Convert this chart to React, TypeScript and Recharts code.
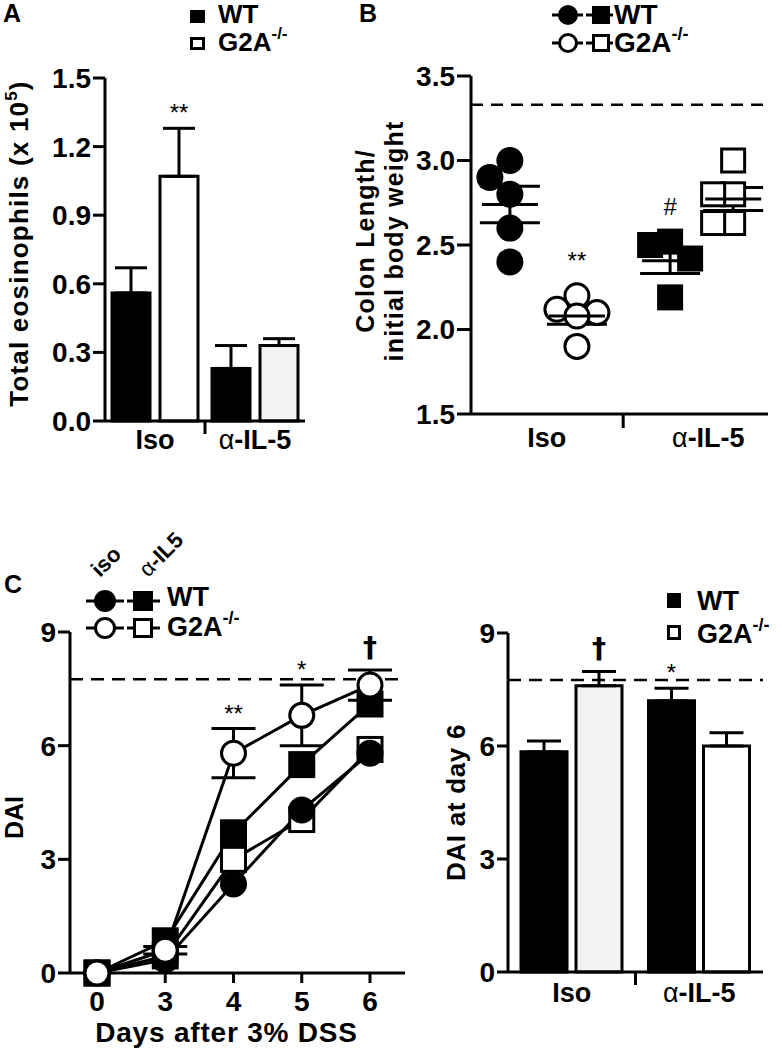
import React from "react";
import {
  BarChart,
  Bar,
  Cell,
  ErrorBar,
  LabelList,
  XAxis,
  YAxis,
  ReferenceLine,
  ScatterChart,
  Scatter,
  LineChart,
  Line,
} from "recharts";

const FONT = '"Liberation Sans", Arial, Helvetica, sans-serif';

// A: total eosinophils
const eosGroups = ["Iso", "α-IL-5"];
const eosWT = [0.56, 0.23];
const eosWTErr = [0.11, 0.1];
const eosKO = [1.07, 0.33];
const eosKOErr = [0.21, 0.03];
const eosKOSig = ["**", ""];
const eosTicks = [0, 0.3, 0.6, 0.9, 1.2, 1.5];
const eosKOFill = ["#ffffff", "#f2f2f2"];

// B: colon length / initial body weight (one value per mouse)
const colonWTIso = [3.0, 2.9, 2.8, 2.6, 2.4];
const colonKOIso = [2.2, 2.12, 2.1, 2.08, 1.9];
const colonWTIL5 = [2.52, 2.5, 2.42, 2.19];
const colonKOIL5 = [3.0, 2.8, 2.8, 2.63, 2.63];
const colonSig = ["", "**", "#", ""];
const colonTicks = [1.5, 2.0, 2.5, 3.0, 3.5];
const colonBaseline = 3.33;
const colonXLabels = ["Iso", "", "α-IL-5"];

// C: DAI over time
const dssDays = ["0", "3", "4", "5", "6"];
const daiWTIso = [0, 0.35, 2.35, 4.3, 5.8];
const daiWTIL5 = [0, 0.85, 3.7, 5.5, 7.1];
const daiKOIso = [0, 0.6, 5.8, 6.8, 7.6];
const daiKOIsoErr = [0, 0.1, 0.65, 0.8, 0.4];
const daiKOIL5 = [0, 0.45, 3.0, 4.05, 5.9];
const daiSig = ["", "", "**", "*", "†"];
const daiTicks = [0, 3, 6, 9];
const daiBaseline = 7.75;

// D: DAI at day 6
const day6Groups = ["Iso", "α-IL-5"];
const day6WT = [5.85, 7.2];
const day6WTErr = [0.28, 0.33];
const day6KO = [7.6, 6.0];
const day6KOErr = [0.38, 0.35];
const day6WTSig = ["", "*"];
const day6KOSig = ["†", ""];
const day6KOFill = ["#f2f2f2", "#ffffff"];

const AX = { stroke: "#000", strokeWidth: 3 };
const tickFont = { fill: "#000", fontSize: 28, fontWeight: 700, fontFamily: FONT };
const bold = { fontFamily: FONT, fontWeight: 700, fill: "#000" } as const;

function groupLabel(s: string) {
  if (s.startsWith("α")) {
    return (
      <>
        <tspan fontWeight={400}>α</tspan>
        {s.slice(1)}
      </>
    );
  }
  return s;
}

// significance mark drawn just above the point (x, y)
function SigMark({ x, y, label }: { x: number; y: number; label: string }) {
  if (label === "†") {
    return (
      <text x={x} y={y - 13} textAnchor="middle" fontSize={28} fontWeight={700} fontFamily='"DejaVu Sans", sans-serif' fill="#000">
        {label}
      </text>
    );
  }
  return (
    <text x={x} y={y - 7} textAnchor="middle" fontSize={24} fontFamily={FONT} fill="#000">
      {label}
    </text>
  );
}

const bandTick = (halfBand: number, dy: number) => (p: any) => {
  const { x, y, payload, index } = p;
  const half = typeof payload?.offset === "number" && payload.offset > 0 ? payload.offset : halfBand;
  return (
    <g key={`t-${index}`}>
      {index > 0 && (
        <line x1={x - half} x2={x - half} y1={y} y2={y + 13} stroke="#000" strokeWidth={3} />
      )}
      <text x={x} y={y + dy} textAnchor="middle" fontSize={27} {...bold}>
        {groupLabel(String(payload.value))}
      </text>
    </g>
  );
};

const barSig = (vals: number[], errs: number[]) => (p: any) => {
  const label = p.value;
  if (!label) return null;
  const vb = p.viewBox ?? p;
  const x = Number(vb.x ?? p.x);
  const y = Number(vb.y ?? p.y);
  const w = Number(vb.width ?? p.width);
  const h = Number(vb.height ?? p.height);
  const i = p.index;
  const errPx = vals[i] ? (h * errs[i]) / vals[i] : 0;
  return <SigMark key={`s-${i}`} x={x + w / 2} y={y - errPx} label={label} />;
};

type Kind = "fc" | "oc" | "fs" | "os";
function Marker({ kind, cx, cy, size }: { kind: Kind; cx: number; cy: number; size: number }) {
  if (cx == null || cy == null) return null;
  const h = size / 2;
  if (kind === "fc") return <circle cx={cx} cy={cy} r={h} fill="#000" />;
  if (kind === "oc") return <circle cx={cx} cy={cy} r={h - 1.5} fill="#fff" stroke="#000" strokeWidth={3} />;
  if (kind === "fs") return <rect x={cx - h} y={cy - h} width={size} height={size} fill="#000" />;
  return <rect x={cx - h + 1.5} y={cy - h + 1.5} width={size - 3} height={size - 3} fill="#fff" stroke="#000" strokeWidth={3} />;
}

// ---------- Panel A ----------
function PanelA() {
  const data = eosGroups.map((g, i) => ({
    group: g,
    wt: eosWT[i],
    wtErr: [0, eosWTErr[i]],
    ko: eosKO[i],
    koErr: [0, eosKOErr[i]],
    koSig: eosKOSig[i],
  }));
  return (
    <BarChart width={345} height={470} data={data} margin={{ top: 78, right: 40, bottom: 9, left: 0 }} barSize={38} barGap={10}>
      <XAxis dataKey="group" height={40} tickSize={0} tickMargin={0} axisLine={AX} tickLine={false} interval={0} tick={bandTick(50, 28)} />
      <YAxis
        width={105}
        domain={[0, 1.5]}
        ticks={eosTicks}
        interval={0}
        tickFormatter={(v: number) => v.toFixed(1)}
        axisLine={AX}
        tickLine={AX}
        tickSize={12}
        tickMargin={2}
        tick={tickFont}
        label={{
          content: (p: any) => {
            const vb = p.viewBox ?? { x: 0, y: 78, width: 105, height: 343 };
            const cx = vb.x + 28;
            const cy = vb.y + vb.height / 2 - 6;
            return (
              <text transform={`translate(${cx},${cy}) rotate(-90)`} textAnchor="middle" fontSize={26} letterSpacing={1.2} {...bold}>
                Total eosinophils (x 10
                <tspan dy={-11} fontSize={17}>5</tspan>
                <tspan dy={11}>)</tspan>
              </text>
            );
          },
        }}
      />
      <Bar dataKey="wt" fill="#000" stroke="#000" strokeWidth={3} isAnimationActive={false}>
        <ErrorBar dataKey="wtErr" width={16} stroke="#000" strokeWidth={3} direction="y" />
      </Bar>
      <Bar dataKey="ko" fill="#fff" stroke="#000" strokeWidth={3} isAnimationActive={false}>
        {data.map((d, i) => (
          <Cell key={`c-${i}`} fill={eosKOFill[i]} />
        ))}
        <ErrorBar dataKey="koErr" width={16} stroke="#000" strokeWidth={3} direction="y" />
        <LabelList dataKey="koSig" content={barSig(eosKO, eosKOErr)} />
      </Bar>
    </BarChart>
  );
}

// ---------- Panel B ----------
const B_DOMAIN: [number, number] = [0.42, 4.85];
const B_PLOT_W = 297;
const B_PLOT_H = 338;
const PX_X = B_PLOT_W / (B_DOMAIN[1] - B_DOMAIN[0]);
const PX_Y = B_PLOT_H / (colonTicks[colonTicks.length - 1] - colonTicks[0]);
const colonGroupX = [1, 2, 3.39, 4.33];
const colonTickX = [1.55, 2.69, 3.96];

function dodge(vals: number[]) {
  const placed: { dx: number; dy: number }[] = [];
  const steps = [0, -1, 1, -2, 2, -3, 3];
  return vals.map((v) => {
    const py = v * PX_Y;
    for (const s of steps) {
      const dx = s * 10;
      if (placed.every((p) => Math.hypot(p.dx - dx, p.dy - py) >= 20)) {
        placed.push({ dx, dy: py });
        return dx / PX_X;
      }
    }
    return 0;
  });
}

function meanSem(vals: number[]) {
  const n = vals.length;
  const m = vals.reduce((a, b) => a + b, 0) / n;
  const sd = Math.sqrt(vals.reduce((a, b) => a + (b - m) ** 2, 0) / (n - 1));
  return { mean: m, sem: sd / Math.sqrt(n) };
}

function PanelB() {
  const groups = [colonWTIso, colonKOIso, colonWTIL5, colonKOIL5];
  const kinds: Kind[] = ["fc", "oc", "fs", "os"];
  const pts = groups.map((vals, g) => {
    const off = dodge(vals);
    return vals.map((v, i) => ({ x: colonGroupX[g] + off[i], y: v }));
  });
  const means = groups.map((vals, g) => {
    const s = meanSem(vals);
    return { x: colonGroupX[g], y: s.mean, sem: s.sem };
  });
  const sigs = groups
    .map((vals, g) => ({ x: colonGroupX[g], y: Math.max(...vals) + 0.21, sig: colonSig[g] }))
    .filter((d) => d.sig);
  const xTick = (p: any) => {
    const { x, y, index } = p;
    const lab = colonXLabels[index];
    if (!lab) return <line key={`bt-${index}`} x1={x} x2={x} y1={y} y2={y + 14} stroke="#000" strokeWidth={3} />;
    return (
      <text key={`bt-${index}`} x={x} y={y + 33} textAnchor="middle" fontSize={27} {...bold}>
        {groupLabel(lab)}
      </text>
    );
  };
  return (
    <ScatterChart width={442} height={480} margin={{ top: 76, right: 14, bottom: 26, left: 0 }}>
      <XAxis
        type="number"
        dataKey="x"
        domain={B_DOMAIN}
        ticks={colonTickX}
        interval={0}
        allowDataOverflow
        height={40}
        tickSize={0}
        tickMargin={0}
        axisLine={AX}
        tickLine={false}
        tick={xTick}
      />
      <YAxis
        type="number"
        dataKey="y"
        width={131}
        domain={[1.5, 3.5]}
        ticks={colonTicks}
        interval={0}
        allowDataOverflow
        tickFormatter={(v: number) => v.toFixed(1)}
        axisLine={AX}
        tickLine={AX}
        tickSize={14}
        tickMargin={2}
        tick={tickFont}
        label={{
          content: (p: any) => {
            const vb = p.viewBox ?? { x: 0, y: 76, width: 131, height: 338 };
            const cy = vb.y + vb.height / 2 - 4;
            return (
              <g>
                <text transform={`translate(${vb.x + 34},${cy}) rotate(-90)`} textAnchor="middle" fontSize={25} letterSpacing={1.2} {...bold}>
                  Colon Length/
                </text>
                <text transform={`translate(${vb.x + 63},${cy}) rotate(-90)`} textAnchor="middle" fontSize={25} letterSpacing={1.2} {...bold}>
                  initial body weight
                </text>
              </g>
            );
          },
        }}
      />
      <ReferenceLine y={colonBaseline} stroke="#000" strokeWidth={2.5} strokeDasharray="12 8" />
      {pts.map((d, g) => (
        <Scatter
          key={`g-${g}`}
          data={d}
          isAnimationActive={false}
          shape={(p: any) => <Marker kind={kinds[g]} cx={p.cx} cy={p.cy} size={g < 2 ? 27 : 26} />}
        />
      ))}
      <Scatter
        data={means}
        isAnimationActive={false}
        shape={(p: any) => <line x1={p.cx - 28} x2={p.cx + 28} y1={p.cy} y2={p.cy} stroke="#000" strokeWidth={3} />}
      >
        <ErrorBar dataKey="sem" direction="y" width={30} stroke="#000" strokeWidth={3} />
      </Scatter>
      <Scatter
        data={sigs}
        isAnimationActive={false}
        shape={(p: any) => (
          <text x={p.cx} y={p.cy + 9} textAnchor="middle" fontSize={24} fontFamily={FONT} fill="#000">
            {p.payload?.sig}
          </text>
        )}
      />
    </ScatterChart>
  );
}

// ---------- Panel C ----------
function PanelC() {
  const data = dssDays.map((d, i) => ({
    day: d,
    wtIso: daiWTIso[i],
    wtIL5: daiWTIL5[i],
    koIso: daiKOIso[i],
    koIsoErr: daiKOIsoErr[i],
    koIL5: daiKOIL5[i],
    sig: daiSig[i],
  }));
  const dotOf = (kind: Kind) => (p: any) => <Marker key={`${kind}-${p.index}`} kind={kind} cx={p.cx} cy={p.cy} size={27} />;
  return (
    <LineChart width={420} height={510} data={data} margin={{ top: 92, right: 15, bottom: 0, left: 0 }}>
      <XAxis
        dataKey="day"
        padding={{ left: 27, right: 35 }}
        height={77}
        interval={0}
        axisLine={AX}
        tickLine={AX}
        tickSize={10}
        tickMargin={8}
        tick={tickFont}
        label={{
          content: (p: any) => {
            const vb = p.viewBox ?? { x: 70, y: 433, width: 335, height: 77 };
            return (
              <text x={vb.x + vb.width / 2 - 11} y={vb.y + 69} textAnchor="middle" fontSize={28} letterSpacing={0.8} {...bold}>
                Days after 3% DSS
              </text>
            );
          },
        }}
      />
      <YAxis
        width={70}
        domain={[0, 9]}
        ticks={daiTicks}
        interval={0}
        axisLine={AX}
        tickLine={AX}
        tickSize={12}
        tickMargin={2}
        tick={tickFont}
        label={{
          content: (p: any) => {
            const vb = p.viewBox ?? { x: 0, y: 92, width: 70, height: 341 };
            return (
              <text transform={`translate(${vb.x + 23},${vb.y + vb.height / 2 + 15}) rotate(-90)`} textAnchor="middle" fontSize={25} {...bold}>
                DAI
              </text>
            );
          },
        }}
      />
      <ReferenceLine y={daiBaseline} stroke="#000" strokeWidth={2.5} strokeDasharray="13 8" />
      <Line dataKey="koIL5" stroke="#000" strokeWidth={3} dot={dotOf("os")} activeDot={false} isAnimationActive={false} />
      <Line dataKey="wtIso" stroke="#000" strokeWidth={3} dot={dotOf("fc")} activeDot={false} isAnimationActive={false} />
      <Line dataKey="wtIL5" stroke="#000" strokeWidth={3} dot={dotOf("fs")} activeDot={false} isAnimationActive={false} />
      <Line dataKey="koIso" stroke="#000" strokeWidth={3} dot={dotOf("oc")} activeDot={false} isAnimationActive={false}>
        <ErrorBar dataKey="koIsoErr" direction="y" width={22} stroke="#000" strokeWidth={3} />
      </Line>
      <Line
        dataKey={(d: any) => d.koIso + d.koIsoErr}
        stroke="none"
        dot={false}
        activeDot={false}
        isAnimationActive={false}
      >
        <LabelList
          dataKey="sig"
          content={(p: any) => (p.value ? <SigMark key={`cs-${p.index}`} x={p.x} y={p.y} label={p.value} /> : null)}
        />
      </Line>
    </LineChart>
  );
}

// ---------- Panel D ----------
function PanelD() {
  const data = day6Groups.map((g, i) => ({
    group: g,
    wt: day6WT[i],
    wtErr: [0, day6WTErr[i]],
    wtSig: day6WTSig[i],
    ko: day6KO[i],
    koErr: [0, day6KOErr[i]],
    koSig: day6KOSig[i],
  }));
  return (
    <BarChart width={362} height={510} data={data} margin={{ top: 93, right: 19, bottom: 38, left: 0 }} barSize={46} barGap={9}>
      <XAxis dataKey="group" height={40} tickSize={0} tickMargin={0} axisLine={AX} tickLine={false} interval={0} tick={bandTick(64, 30)} />
      <YAxis
        width={88}
        domain={[0, 9]}
        ticks={daiTicks}
        interval={0}
        axisLine={AX}
        tickLine={AX}
        tickSize={11}
        tickMargin={2}
        tick={tickFont}
        label={{
          content: (p: any) => {
            const vb = p.viewBox ?? { x: 0, y: 93, width: 88, height: 339 };
            return (
              <text transform={`translate(${vb.x + 45},${vb.y + vb.height / 2}) rotate(-90)`} textAnchor="middle" fontSize={26} letterSpacing={0.7} {...bold}>
                DAI at day 6
              </text>
            );
          },
        }}
      />
      <ReferenceLine y={daiBaseline} stroke="#000" strokeWidth={2.5} strokeDasharray="13 8" />
      <Bar dataKey="wt" fill="#000" stroke="#000" strokeWidth={3} isAnimationActive={false}>
        <ErrorBar dataKey="wtErr" width={17} stroke="#000" strokeWidth={3} direction="y" />
        <LabelList dataKey="wtSig" content={barSig(day6WT, day6WTErr)} />
      </Bar>
      <Bar dataKey="ko" fill="#fff" stroke="#000" strokeWidth={3} isAnimationActive={false}>
        {data.map((d, i) => (
          <Cell key={`d-${i}`} fill={day6KOFill[i]} />
        ))}
        <ErrorBar dataKey="koErr" width={17} stroke="#000" strokeWidth={3} direction="y" />
        <LabelList dataKey="koSig" content={barSig(day6KO, day6KOErr)} />
      </Bar>
    </BarChart>
  );
}

// ---------- legends and panel letters ----------
function KO({ x, y, size }: { x: number; y: number; size: number }) {
  return (
    <text x={x} y={y} fontSize={size} {...bold}>
      G2A
      <tspan dy={-12} fontSize={Math.round(size * 0.65)}>-/-</tspan>
    </text>
  );
}

function Overlay() {
  return (
    <svg width={782} height={1050} style={{ position: "absolute", left: 0, top: 0, pointerEvents: "none" }}>
      <text x={3} y={22} fontSize={25} {...bold}>A</text>
      <text x={359} y={22} fontSize={25} {...bold}>B</text>
      <text x={4} y={593} fontSize={25} {...bold}>C</text>

      {/* A legend */}
      <rect x={190} y={10} width={15} height={13} fill="#000" />
      <rect x={191.5} y={38.5} width={12} height={10} fill="#fff" stroke="#000" strokeWidth={3} />
      <text x={218} y={23} fontSize={26} {...bold}>WT</text>
      <KO x={218} y={51} size={26} />

      {/* B legend */}
      <line x1={552} x2={583} y1={15} y2={15} stroke="#000" strokeWidth={3} />
      <circle cx={568} cy={15} r={10} fill="#000" />
      <line x1={586} x2={613} y1={15} y2={15} stroke="#000" strokeWidth={3} />
      <rect x={592} y={6} width={18} height={18} fill="#000" />
      <text x={614} y={24} fontSize={28} {...bold}>WT</text>
      <line x1={552} x2={583} y1={43} y2={43} stroke="#000" strokeWidth={3} />
      <circle cx={568} cy={43} r={8.5} fill="#fff" stroke="#000" strokeWidth={3} />
      <line x1={586} x2={613} y1={43} y2={43} stroke="#000" strokeWidth={3} />
      <rect x={593.5} y={35.5} width={15} height={15} fill="#fff" stroke="#000" strokeWidth={3} />
      <KO x={614} y={52} size={28} />

      {/* C legend */}
      <text transform="translate(100,578) rotate(-45)" fontSize={22} {...bold}>iso</text>
      <text transform="translate(148,578) rotate(-45)" fontSize={22} {...bold}>
        <tspan fontWeight={400}>α</tspan>-IL5
      </text>
      <line x1={86} x2={124} y1={601} y2={601} stroke="#000" strokeWidth={3} />
      <circle cx={105} cy={601} r={11} fill="#000" />
      <line x1={127} x2={160} y1={601} y2={601} stroke="#000" strokeWidth={3} />
      <rect x={133} y={591} width={20} height={20} fill="#000" />
      <text x={167} y={606} fontSize={27} {...bold}>WT</text>
      <line x1={86} x2={124} y1={628} y2={628} stroke="#000" strokeWidth={3} />
      <circle cx={105} cy={628} r={9.5} fill="#fff" stroke="#000" strokeWidth={3} />
      <line x1={127} x2={160} y1={628} y2={628} stroke="#000" strokeWidth={3} />
      <rect x={134.5} y={619.5} width={17} height={17} fill="#fff" stroke="#000" strokeWidth={3} />
      <KO x={167} y={636} size={27} />

      {/* D legend */}
      <rect x={667} y={593} width={14} height={15} fill="#000" />
      <rect x={668.5} y={626.5} width={11} height={12} fill="#fff" stroke="#000" strokeWidth={3} />
      <text x={697} y={610} fontSize={27} {...bold}>WT</text>
      <KO x={697} y={643} size={27} />
    </svg>
  );
}

export default function App() {
  return (
    <div style={{ position: "absolute", left: 0, top: 0, width: 782, height: 1050, background: "#fff", fontFamily: FONT }}>
      <div style={{ position: "absolute", left: 0, top: 0 }}>
        <PanelA />
      </div>
      <div style={{ position: "absolute", left: 340, top: 0 }}>
        <PanelB />
      </div>
      <div style={{ position: "absolute", left: 0, top: 540 }}>
        <PanelC />
      </div>
      <div style={{ position: "absolute", left: 420, top: 540 }}>
        <PanelD />
      </div>
      <Overlay />
    </div>
  );
}
